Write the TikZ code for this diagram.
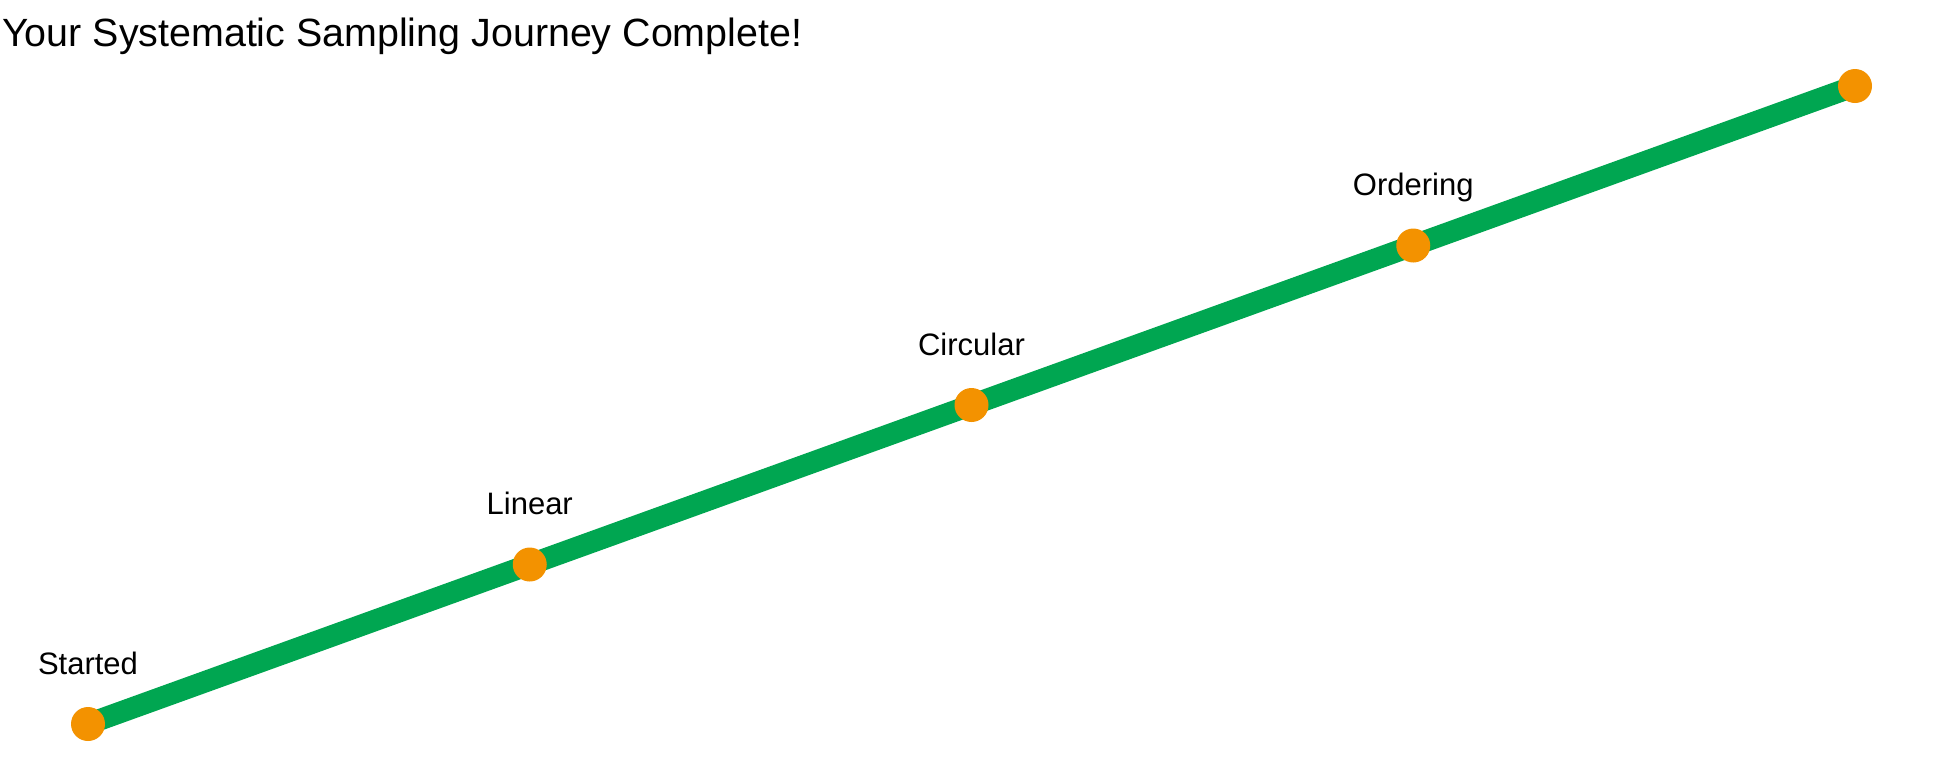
\documentclass[tikz,border=0pt]{standalone}
\usepackage{fontspec}
\setmainfont{Liberation Sans}
\definecolor{pathgreen}{RGB}{0,166,81}
\definecolor{dotorange}{RGB}{243,146,0}
\begin{document}
\begin{tikzpicture}[x=1pt,y=1pt,
  stop/.style={circle,fill=dotorange,draw=none,minimum size=34pt,inner sep=0pt},
  stoplabel/.style={anchor=base,inner sep=0pt,font=\fontsize{31}{33}\selectfont},
  trail/.style={draw=pathgreen,line width=21.5pt}]
\useasboundingbox (0,0) rectangle (1944,-756);
\node[anchor=base west,inner sep=0pt,font=\fontsize{39.4}{42}\selectfont] (title) at (2,-46) {Your Systematic Sampling Journey Complete!};
\coordinate (p0) at (88,-724);
\coordinate (p1) at (529.75,-564.5);
\coordinate (p2) at (971.5,-405);
\coordinate (p3) at (1413.25,-245.5);
\coordinate (p4) at (1855,-86);
\draw[trail] (p0) -- (p4);
\foreach \i in {0,...,4} {\node[stop] (s\i) at (p\i) {};}
\node[stoplabel] (l0) at ([yshift=50pt]p0) {Started};
\node[stoplabel] (l1) at ([yshift=50pt]p1) {Linear};
\node[stoplabel] (l2) at ([yshift=50pt]p2) {Circular};
\node[stoplabel] (l3) at ([yshift=50pt]p3) {Ordering};
\end{tikzpicture}
\end{document}
